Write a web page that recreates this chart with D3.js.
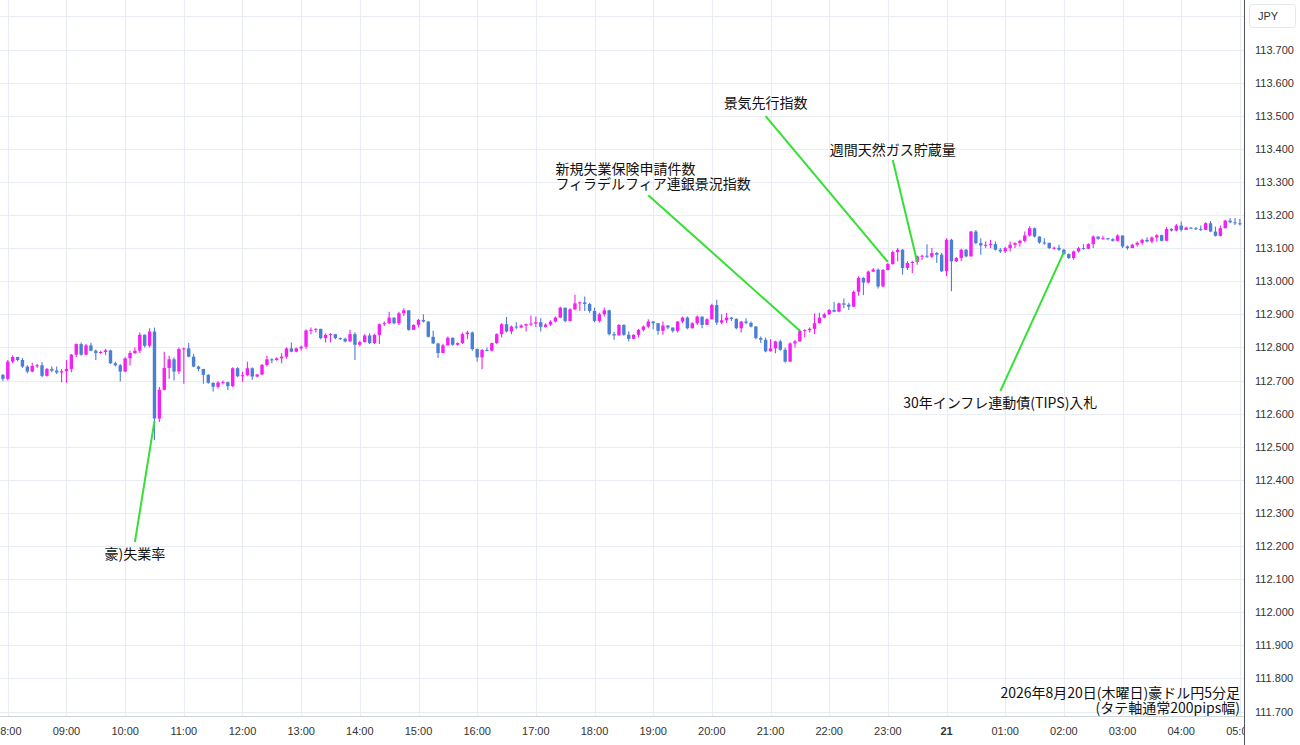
<!DOCTYPE html>
<html><head><meta charset="utf-8">
<script src="https://cdn.jsdelivr.net/npm/d3@7"></script>
<style>body{margin:0;background:#fff}svg{display:block}</style>
</head><body>
<svg id="chart" width="1300" height="745"></svg>
<script>
// ---- data ----
const startTime = "2026-08-20T07:55";
const firstOpen = 112.717;
const closes = [112.705,
112.757,112.771,112.762,112.742,112.727,112.744,112.746,112.714,112.735,112.730,112.724,112.728,
112.735,112.778,112.810,112.778,112.806,112.790,112.783,112.786,112.791,112.752,112.746,112.727,
112.767,112.783,112.790,112.838,112.805,112.848,112.585,112.672,112.738,112.764,112.727,112.795,
112.797,112.772,112.742,112.735,112.717,112.693,112.681,112.694,112.695,112.683,112.737,112.713,
112.716,112.737,112.712,112.718,112.747,112.764,112.762,112.767,112.772,112.797,112.787,112.797,
112.802,112.851,112.853,112.856,112.828,112.838,112.840,112.828,112.826,112.818,112.840,112.808,
112.816,112.836,112.813,112.838,112.870,112.873,112.890,112.873,112.903,112.912,112.853,112.868,
112.883,112.878,112.832,112.812,112.783,112.806,112.829,112.808,112.813,112.840,112.845,112.795,
112.770,112.792,112.790,112.813,112.840,112.870,112.848,112.863,112.860,112.866,112.870,112.872,
112.876,112.862,112.869,112.878,112.890,112.920,112.880,112.915,112.933,112.936,112.931,112.910,
112.880,112.900,112.912,112.840,112.836,112.868,112.838,112.826,112.838,112.853,112.863,112.878,
112.873,112.850,112.866,112.860,112.850,112.878,112.890,112.858,112.873,112.893,112.868,112.885,
112.928,112.875,112.882,112.890,112.886,112.858,112.878,112.874,112.863,112.828,112.823,112.788,
112.797,112.818,112.793,112.757,112.812,112.818,112.850,112.852,112.856,112.873,112.890,112.900,
112.913,112.908,112.933,112.929,112.923,112.968,113.010,112.996,113.029,113.035,112.984,113.034,
113.052,113.088,113.095,113.040,113.055,113.058,113.075,113.077,113.074,113.085,113.080,113.030,
113.125,113.060,113.070,113.095,113.075,113.150,113.115,113.108,113.110,113.112,113.095,113.090,
113.100,113.110,113.115,113.122,113.138,113.160,113.135,113.117,113.116,113.100,113.101,113.095,
113.082,113.070,113.090,113.100,113.098,113.112,113.135,113.128,113.130,113.127,113.122,113.138,
113.105,113.100,113.110,113.116,113.125,113.120,113.132,113.139,113.122,113.158,113.153,113.168,
113.155,113.162,113.160,113.158,113.155,113.175,113.150,113.137,113.160,113.183,113.178,113.175,
113.173];
const highs = [112.720,
112.762,112.776,112.772,112.768,112.746,112.754,112.750,112.755,112.738,112.742,112.742,112.735,
112.762,112.780,112.812,112.815,112.810,112.814,112.794,112.790,112.795,112.793,112.757,112.750,
112.770,112.790,112.800,112.845,112.840,112.858,112.860,112.680,112.787,112.775,112.770,112.800,
112.800,112.814,112.780,112.745,112.735,112.720,112.695,112.698,112.700,112.696,112.740,112.740,
112.727,112.757,112.740,112.720,112.750,112.775,112.767,112.770,112.782,112.800,112.815,112.800,
112.806,112.855,112.860,112.858,112.848,112.842,112.843,112.840,112.830,112.830,112.853,112.846,
112.820,112.840,112.843,112.840,112.872,112.878,112.908,112.890,112.908,112.918,112.908,112.870,
112.886,112.900,112.880,112.850,112.814,112.810,112.833,112.830,112.815,112.845,112.850,112.848,
112.797,112.795,112.800,112.815,112.843,112.873,112.892,112.866,112.876,112.870,112.872,112.896,
112.893,112.888,112.873,112.882,112.893,112.923,112.920,112.918,112.959,112.938,112.954,112.935,
112.920,112.905,112.920,112.914,112.847,112.870,112.870,112.848,112.840,112.856,112.866,112.885,
112.880,112.860,112.878,112.868,112.856,112.880,112.893,112.893,112.876,112.896,112.893,112.888,
112.932,112.944,112.900,112.904,112.892,112.888,112.880,112.888,112.878,112.865,112.833,112.830,
112.825,112.820,112.823,112.800,112.815,112.822,112.853,112.855,112.860,112.903,112.905,112.905,
112.916,112.938,112.936,112.948,112.935,112.972,113.015,113.012,113.032,113.040,113.038,113.037,
113.055,113.092,113.100,113.097,113.060,113.062,113.078,113.080,113.112,113.100,113.088,113.085,
113.130,113.128,113.073,113.098,113.097,113.152,113.155,113.130,113.120,113.125,113.120,113.100,
113.103,113.120,113.118,113.125,113.150,113.166,113.162,113.135,113.130,113.116,113.105,113.110,
113.098,113.084,113.093,113.104,113.112,113.115,113.138,113.135,113.137,113.130,113.130,113.142,
113.138,113.108,113.113,113.120,113.128,113.133,113.135,113.142,113.141,113.163,113.160,113.173,
113.180,113.165,113.163,113.164,113.168,113.178,113.182,113.165,113.168,113.186,113.191,113.190,
113.188];
const lows = [112.698,
112.700,112.752,112.758,112.738,112.722,112.725,112.738,112.710,112.712,112.725,112.720,112.695,
112.693,112.725,112.770,112.775,112.776,112.788,112.762,112.780,112.776,112.750,112.742,112.697,
112.725,112.745,112.780,112.783,112.800,112.800,112.520,112.575,112.670,112.705,112.700,112.720,
112.690,112.770,112.740,112.728,112.690,112.690,112.667,112.676,112.688,112.671,112.680,112.710,
112.696,112.713,112.702,112.710,112.716,112.742,112.752,112.760,112.752,112.766,112.785,112.785,
112.790,112.795,112.840,112.845,112.825,112.815,112.815,112.825,112.822,112.815,112.817,112.762,
112.803,112.815,112.810,112.810,112.810,112.865,112.870,112.870,112.868,112.895,112.850,112.853,
112.860,112.875,112.830,112.810,112.768,112.783,112.808,112.805,112.805,112.810,112.825,112.790,
112.757,112.734,112.788,112.788,112.810,112.830,112.845,112.840,112.855,112.858,112.848,112.865,
112.862,112.848,112.860,112.865,112.875,112.888,112.875,112.878,112.912,112.910,112.910,112.905,
112.876,112.875,112.893,112.836,112.823,112.838,112.835,112.818,112.825,112.830,112.848,112.858,
112.855,112.838,112.838,112.855,112.845,112.845,112.873,112.855,112.857,112.868,112.858,112.868,
112.884,112.868,112.870,112.874,112.880,112.855,112.845,112.870,112.860,112.825,112.813,112.785,
112.790,112.782,112.790,112.754,112.757,112.800,112.818,112.830,112.845,112.840,112.872,112.888,
112.898,112.906,112.906,112.918,112.913,112.922,112.956,112.958,112.993,113.028,112.978,112.987,
113.032,113.050,113.060,113.020,113.034,113.024,113.050,113.064,113.070,113.070,113.055,113.028,
113.015,112.970,113.058,113.060,113.072,113.080,113.112,113.080,113.100,113.100,113.093,113.085,
113.085,113.090,113.100,113.105,113.118,113.135,113.132,113.113,113.110,113.097,113.095,113.092,
113.080,113.067,113.065,113.087,113.095,113.097,113.100,113.125,113.125,113.124,113.120,113.120,
113.100,113.095,113.100,113.105,113.110,113.118,113.115,113.120,113.120,113.130,113.150,113.150,
113.150,113.155,113.158,113.155,113.152,113.155,113.148,113.135,113.135,113.160,113.175,113.170,
113.168];
const priceTicks = [111.7,111.8,111.9,112.0,112.1,112.2,112.3,112.4,112.5,112.6,112.7,112.8,112.9,113.0,113.1,113.2,113.3,113.4,113.5,113.6,113.7];
const timeTickLabels = ["08:00","09:00","10:00","11:00","12:00","13:00","14:00","15:00","16:00","17:00","18:00","19:00","20:00","21:00","22:00","23:00","21","01:00","02:00","03:00","04:00","05:00"];
const annotations = [
  {lines:["豪)失業率"], anchor:"middle", label:["2026-08-20T10:10",112.176], from:["2026-08-20T10:10",112.212], to:["2026-08-20T10:30",112.578]},
  {lines:["新規失業保険申請件数","フィラデルフィア連銀景況指数"], anchor:"start", label:["2026-08-20T17:20",113.338], from:["2026-08-20T18:55",113.260], to:["2026-08-20T21:30",112.850]},
  {lines:["景気先行指数"], anchor:"middle", label:["2026-08-20T20:55",113.538], from:["2026-08-20T20:55",113.499], to:["2026-08-20T23:00",113.058]},
  {lines:["週間天然ガス貯蔵量"], anchor:"middle", label:["2026-08-20T23:05",113.396], from:["2026-08-20T23:05",113.366], to:["2026-08-20T23:30",113.058]},
  {lines:["30年インフレ連動債(TIPS)入札"], anchor:"middle", label:["2026-08-21T00:55",112.632], from:["2026-08-21T00:55",112.668], to:["2026-08-21T02:00",113.088]}
];
const currency = "JPY";
const captionLines = ["2026年8月20日(木曜日)豪ドル円5分足","(タテ軸通常200pips幅)"];

// ---- layout ----
const W = 1300, H = 745, plotR = 1244, plotB = 716;
const parse = d3.timeParse("%Y-%m-%dT%H:%M");
const t0 = parse("2026-08-20T08:00"), t1 = parse("2026-08-21T05:00");
const x = d3.scaleTime().domain([t0, t1]).range([7.8, 1239.9]);
const y = d3.scaleLinear().domain([111.7, 113.7]).range([711.5, 49.5]);
const UP = "#f51ef5", DOWN = "#4a7fd6", GRID = "#e9edf3";

const svg = d3.select("#chart");
svg.append("rect").attr("width", W).attr("height", H).attr("fill", "#fff");
svg.append("defs").append("clipPath").attr("id", "plotclip")
  .append("rect").attr("x", 0).attr("y", 0).attr("width", plotR).attr("height", plotB);

const plot = svg.append("g").attr("clip-path", "url(#plotclip)");

// grid
const tickTimes = timeTickLabels.map((_, i) => d3.timeHour.offset(t0, i));
const gridPrices = priceTicks.concat([priceTicks[priceTicks.length - 1] + 0.1]);
plot.append("g").selectAll("line").data(gridPrices).join("line")
  .attr("x1", 0).attr("x2", plotR)
  .attr("y1", d => Math.round(y(d)) + 0.5).attr("y2", d => Math.round(y(d)) + 0.5)
  .attr("stroke", GRID).attr("stroke-width", 1);
plot.append("g").selectAll("line").data(tickTimes).join("line")
  .attr("y1", 0).attr("y2", plotB)
  .attr("x1", d => Math.round(x(d)) + 0.5).attr("x2", d => Math.round(x(d)) + 0.5)
  .attr("stroke", GRID).attr("stroke-width", 1);

// candles
const start = parse(startTime);
const candles = closes.map((c, i) => ({
  t: d3.timeMinute.offset(start, 5 * i),
  o: i ? closes[i - 1] : firstOpen, c, h: highs[i], l: lows[i]
}));
const cg = plot.append("g");
const g = cg.selectAll("g").data(candles).join("g");
g.append("line")
  .attr("x1", d => x(d.t)).attr("x2", d => x(d.t))
  .attr("y1", d => y(Math.max(d.h, d.o, d.c))).attr("y2", d => y(Math.min(d.l, d.o, d.c)))
  .attr("stroke", d => d.c >= d.o ? UP : DOWN).attr("stroke-width", 1.1);
g.append("rect")
  .attr("x", d => x(d.t) - 1.7).attr("width", 3.4)
  .attr("y", d => y(Math.max(d.o, d.c)))
  .attr("height", d => Math.max(1, Math.abs(y(d.o) - y(d.c))))
  .attr("fill", d => d.c >= d.o ? UP : DOWN);

// annotations
const GREEN = "#35df35";
const ag = plot.append("g");
annotations.forEach(a => {
  ag.append("line")
    .attr("x1", x(parse(a.from[0]))).attr("y1", y(a.from[1]))
    .attr("x2", x(parse(a.to[0]))).attr("y2", y(a.to[1]))
    .attr("stroke", GREEN).attr("stroke-width", 2);
  const tx = ag.append("text")
    .attr("x", x(parse(a.label[0]))).attr("y", y(a.label[1]))
    .attr("text-anchor", a.anchor)
    .attr("font-family", "'Noto Sans CJK JP', sans-serif")
    .attr("font-size", 14).attr("fill", "#111");
  a.lines.forEach((ln, i) => {
    tx.append("tspan").attr("x", x(parse(a.label[0])))
      .attr("dy", i ? 15 : 5).text(ln);
  });
});

// caption
const cap = svg.append("text").attr("text-anchor", "end")
  .attr("font-family", "'Noto Sans CJK JP', sans-serif").attr("font-size", 14).attr("fill", "#111");
captionLines.forEach((ln, i) => {
  cap.append("tspan").attr("x", 1240).attr("y", 698 + i * 14.5).text(ln);
});

// bottom axis
svg.append("line").attr("x1", 0).attr("x2", plotR).attr("y1", plotB + 0.5).attr("y2", plotB + 0.5)
  .attr("stroke", "#cfd3da");
svg.append("g").selectAll("text").data(tickTimes).join("text")
  .attr("x", d => x(d)).attr("y", 735)
  .attr("text-anchor", "middle")
  .attr("font-family", "'Liberation Sans', Arial, sans-serif")
  .attr("font-size", 11).attr("fill", "#333")
  .attr("font-weight", (d, i) => timeTickLabels[i].length < 3 ? "bold" : "normal")
  .text((d, i) => timeTickLabels[i]);

// right axis panel
svg.append("rect").attr("x", plotR + 1).attr("y", 0).attr("width", W - plotR).attr("height", H).attr("fill", "#fff");
svg.append("line").attr("x1", plotR + 0.5).attr("x2", plotR + 0.5).attr("y1", 0).attr("y2", H)
  .attr("stroke", "#50535e").attr("stroke-width", 1);
svg.append("g").selectAll("text").data(priceTicks).join("text")
  .attr("x", 1255).attr("y", d => y(d) + 4)
  .attr("font-family", "'Liberation Sans', Arial, sans-serif")
  .attr("font-size", 11).attr("fill", "#333")
  .text(d => d.toFixed(3));
svg.append("rect").attr("x", 1249.5).attr("y", 4.5).attr("width", 46).attr("height", 23).attr("rx", 3)
  .attr("fill", "#fff").attr("stroke", "#e3e6ec");
svg.append("text").attr("x", 1268).attr("y", 20).attr("text-anchor", "middle")
  .attr("font-family", "'Liberation Sans', Arial, sans-serif").attr("font-size", 11).attr("fill", "#333")
  .text(currency);
</script>
</body></html>
